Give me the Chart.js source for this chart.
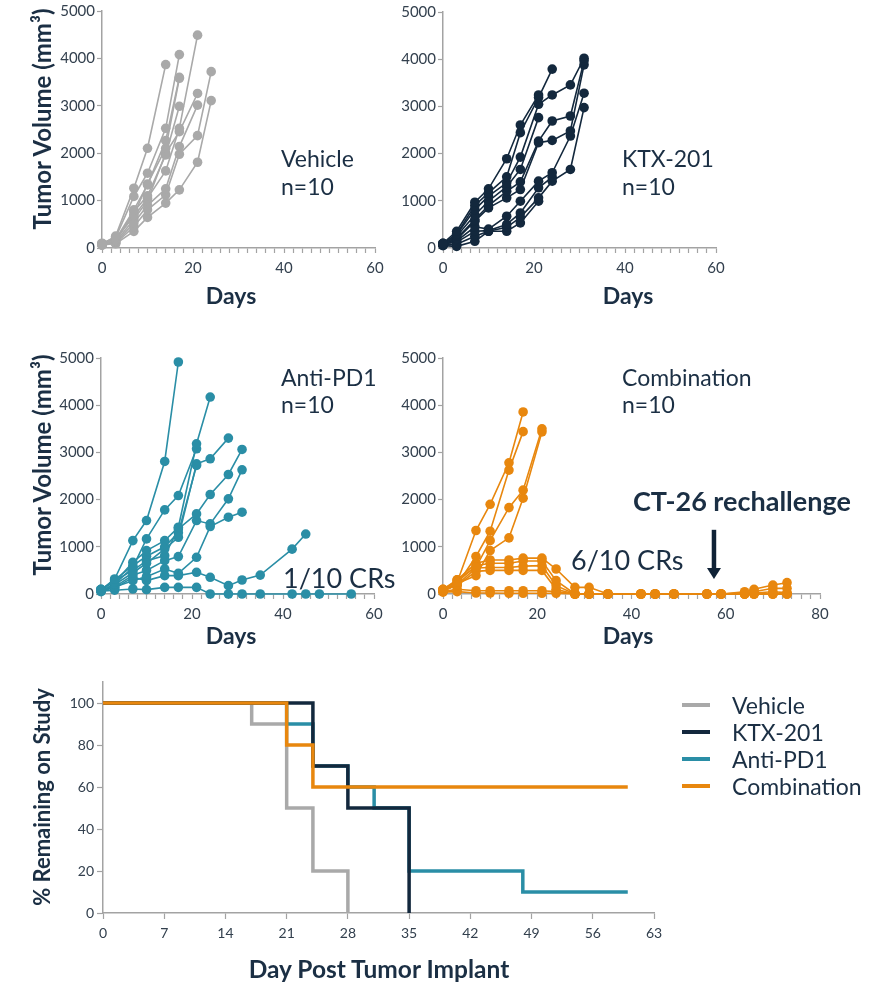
<!DOCTYPE html>
<html>
<head>
<meta charset="utf-8">
<script src="https://cdn.jsdelivr.net/npm/chart.js@4.4.1/dist/chart.umd.min.js"></script>
<style>
  body { margin: 0; background: #fff; width: 876px; height: 982px; position: relative; overflow: hidden;
         font-family: Lato, "Open Sans", sans-serif; color: #1b2f44; }
  canvas { position: absolute; }
  .t { position: absolute; white-space: nowrap; line-height: 1; }
  .ytitle { position: absolute; white-space: nowrap; line-height: 1; font-weight: 700; font-size: 24px;
            transform: translate(-50%, -50%) rotate(-90deg); }
  .xtitle { position: absolute; white-space: nowrap; line-height: 1; font-weight: 700; font-size: 23px;
            transform: translateX(-50%); }
  .lg { position: absolute; left: 682px; width: 28px; height: 4px; }
</style>
</head>
<body>
<canvas id="vehicleChart" width="400" height="290" style="left:0;top:0"></canvas>
<canvas id="ktxChart" width="400" height="290" style="left:340px;top:0"></canvas>
<canvas id="antiChart" width="400" height="300" style="left:0;top:330px"></canvas>
<canvas id="comboChart" width="536" height="300" style="left:340px;top:330px"></canvas>
<canvas id="kmChart" width="690" height="290" style="left:0;top:670px"></canvas>

<div class="ytitle" style="left:42px;top:119px">Tumor Volume (mm³)</div>
<div class="ytitle" style="left:42px;top:465px">Tumor Volume (mm³)</div>
<div class="ytitle" style="left:42px;top:797px;font-size:22px">% Remaining on Study</div>
<div class="xtitle" style="left:231px;top:284px">Days</div>
<div class="xtitle" style="left:628px;top:284px">Days</div>
<div class="xtitle" style="left:231px;top:624px">Days</div>
<div class="xtitle" style="left:628px;top:624px">Days</div>
<div class="xtitle" style="left:379px;top:957px;font-size:24.5px">Day Post Tumor Implant</div>

<div class="t" style="left:281px;top:147px;font-size:23px">Vehicle</div>
<div class="t" style="left:281px;top:175px;font-size:23px">n=10</div>
<div class="t" style="left:622px;top:147px;font-size:23px">KTX-201</div>
<div class="t" style="left:622px;top:175px;font-size:23px">n=10</div>
<div class="t" style="left:281px;top:366px;font-size:23px">Anti-PD1</div>
<div class="t" style="left:281px;top:393px;font-size:23px">n=10</div>
<div class="t" style="left:622px;top:366px;font-size:23px">Combination</div>
<div class="t" style="left:622px;top:393px;font-size:23px">n=10</div>
<div class="t" style="left:283px;top:564px;font-size:27px">1/10 CRs</div>
<div class="t" style="left:571px;top:546px;font-size:27px">6/10 CRs</div>
<div class="t" style="left:633px;top:487px;font-size:27px;font-weight:700">CT-26 rechallenge</div>

<div class="lg" style="top:703px;background:#a9a9a9"></div>
<div class="t" style="left:732px;top:694px;font-size:23px">Vehicle</div>
<div class="lg" style="top:730px;background:#13283d"></div>
<div class="t" style="left:732px;top:721px;font-size:23px">KTX-201</div>
<div class="lg" style="top:757px;background:#2a8ea6"></div>
<div class="t" style="left:732px;top:748px;font-size:23px">Anti-PD1</div>
<div class="lg" style="top:784px;background:#e8870e"></div>
<div class="t" style="left:732px;top:775px;font-size:23px">Combination</div>

<script>
// tumor volume (mm³) per mouse, one array per mouse, aligned with the day list of its group
const vehicleDays = [0, 3, 7, 10, 14, 17, 21, 24];
const vehicleMice = [
  [80, 250, 1262, 2104, 3870],
  [100, 220, 1087, 1578, 2525, 4080],
  [70, 180, 806, 1332, 2265, 3600],
  [90, 160, 700, 1350, 2104, 3580],
  [60, 150, 771, 1100, 1964, 2990],
  [80, 200, 666, 1052, 1627, 2525, 4490],
  [70, 130, 600, 1000, 2000, 2455, 3260],
  [90, 110, 526, 900, 1248, 2139, 3015],
  [60, 100, 450, 806, 1122, 1978, 2370, 3720],
  [80, 90, 351, 645, 947, 1227, 1809, 3110],
];

const ktxDays = [0, 3, 7, 10, 14, 17, 21, 24, 28, 31];
const ktxMice = [
  [100, 354, 970, 1253, 1891, 2606, 3243],
  [80, 300, 900, 1168, 1508, 2443, 3187, 3790],
  [90, 280, 814, 1100, 1381, 1926, 3045, 3243, 3456, 4020],
  [70, 250, 700, 991, 1300, 1664, 2762],
  [60, 200, 600, 900, 1200, 1400, 2266, 2691, 2797, 3965],
  [100, 180, 567, 850, 1062, 1239, 2231, 2280, 2479, 3880],
  [70, 150, 450, 400, 673, 991, 1416, 1594, 2372, 3280],
  [90, 120, 354, 368, 500, 743, 1275, 1500],
  [60, 80, 250, 354, 439, 650, 1062, 1416, 1664, 2975],
  [50, 35, 142, 354, 354, 531, 991],
];

const antiDays = [0, 3, 7, 10, 14, 17, 21, 24, 28, 31, 35, 42, 45, 48, 55];
const antiMice = [
  [80, 318, 1131, 1556, 2808, 4915],
  [100, 250, 672, 919, 1131, 1414, 3182, 4173],
  [70, 212, 566, 1167, 1782, 2086, 3076],
  [60, 200, 450, 651, 955, 1202, 2758, 2864, 3303],
  [90, 280, 500, 700, 813, 1379, 1697, 2108, 2532, 3062],
  [50, 150, 400, 500, 707, 792, 1556, 1485, 2016, 2631],
  [70, 150, 283, 368, 530, 438, 778, 1429, 1627, 1733],
  [100, 120, 354, 283, 389, 389, 460, 354, 177, 297, 400, 950, 1270],
  [60, 80, 106, 92, 141, 141, 141, 0, 0, 0, 0, 0, 0, 0, 0],
  [90, 300, 600, 800, 1000, 1300, 2723],
];

const comboDays = [0, 3, 7, 10, 14, 17, 21, 24, 28, 31, 35, 42, 45, 49, 56, 59, 64, 66, 70, 73];
const comboMice = [
  [80, 250, 1345, 1900, 2780, 3857],
  [60, 200, 795, 1330, 2625, 3440],
  [100, 300, 566, 1130, 1830, 2200, 3500],
  [70, 220, 390, 920, 1190, 2030, 3435],
  [80, 300, 650, 720, 720, 760, 760, 530, 141, 141, 0, 0, 0, 0, 0, 0, 49, 99, 190, 240],
  [100, 250, 600, 650, 650, 700, 700, 283, 0, 0, 0, 0, 0, 0, 0, 0, 20, 49, 120, 120],
  [60, 200, 550, 560, 560, 590, 600, 177, 0, 0, 0, 0, 0, 0, 0, 0, 0, 20, 49, 30],
  [90, 180, 480, 500, 500, 500, 500, 100, 0, 0, 0, 0, 0, 0, 0, 0, 0, 0, 0, 0],
  [50, 100, 70, 70, 70, 70, 70, 50, 0, 0, 0, 0, 0, 0, 0, 0, 0, 0, 0, 0],
  [40, 50, 20, 20, 15, 15, 15, 15, 0, 0, 0, 0, 0, 0, 0, 0, 0, 0, 0, 0],
];
const rechallengeDay = 57.5;

// % remaining on study (Kaplan-Meier steps)
const kmGroups = ['Vehicle', 'KTX-201', 'Anti-PD1', 'Combination'];
const kmVehicleDays = [0, 17, 21, 24, 28];
const kmVehicle = [100, 90, 50, 20, 0];
const kmKtxDays = [0, 24, 28, 35];
const kmKtx = [100, 70, 50, 0];
const kmAntiDays = [0, 21, 24, 28, 31, 35, 48, 60];
const kmAnti = [100, 90, 70, 60, 50, 20, 10, 10];
const kmComboDays = [0, 21, 24, 60];
const kmCombo = [100, 80, 60, 60];

const colors = { vehicle: '#a9a9a9', ktx: '#13283d', anti: '#2a8ea6', combo: '#e8870e' };
const axisColor = '#a3a3a3';
const tickColor = '#33404e';
const font = 'Lato';

const arrowPlugin = {
  id: 'rechallengeArrow',
  afterDatasetsDraw(chart) {
    const { ctx, scales: { x, y } } = chart;
    const px = x.getPixelForValue(rechallengeDay);
    const top = y.getPixelForValue(1360);
    const tip = y.getPixelForValue(320);
    ctx.save();
    ctx.strokeStyle = ctx.fillStyle = '#0f2236';
    ctx.lineWidth = 4.5;
    ctx.beginPath();
    ctx.moveTo(px, top);
    ctx.lineTo(px, tip - 8);
    ctx.stroke();
    ctx.beginPath();
    ctx.moveTo(px - 7, tip - 11);
    ctx.lineTo(px + 7, tip - 11);
    ctx.lineTo(px, tip);
    ctx.closePath();
    ctx.fill();
    ctx.restore();
  },
};

function toPoints(days, vals) {
  return vals.map((v, i) => ({ x: days[i], y: v })).filter(p => p.y !== null);
}

function tumorPanel(id, days, mice, color, xMax, box, plugins) {
  const datasets = mice.map((vals, i) => ({
    label: 'Mouse ' + (i + 1),
    data: toPoints(days, vals),
    borderColor: color,
    backgroundColor: color,
    borderWidth: 1.6,
    pointRadius: 4.8,
    pointBorderWidth: 0,
    clip: false,
  }));

  return new Chart(document.getElementById(id), {
    type: 'line',
    data: { datasets },
    plugins: plugins || [],
    options: {
      responsive: false,
      animation: false,
      devicePixelRatio: 1,
      layout: { padding: { top: box.top, right: box.right, left: 0, bottom: 0 } },
      plugins: { legend: { display: false }, tooltip: { enabled: false } },
      scales: {
        x: {
          type: 'linear', min: 0, max: xMax,
          afterFit: s => { s.height = box.xHeight; },
          border: { color: axisColor, width: 1.5 },
          grid: { drawOnChartArea: false, tickLength: 5, color: axisColor, tickWidth: 1.2 },
          ticks: {
            stepSize: 2, autoSkip: false, maxRotation: 0, padding: 6,
            color: tickColor, font: { family: font, size: 15 },
            callback: v => (v % 20 === 0 ? String(v) : ''),
          },
        },
        y: {
          min: 0, max: 5000,
          afterFit: s => { s.width = box.yWidth; },
          border: { color: axisColor, width: 1.5 },
          grid: { drawOnChartArea: false, tickLength: 5, color: axisColor, tickWidth: 1.2 },
          ticks: { stepSize: 1000, padding: 2, color: tickColor, font: { family: font, size: 15 },
                   callback: v => String(v) },
        },
      },
    },
  });
}

function kmDataset(label, days, vals, color, order) {
  return {
    label,
    data: toPoints(days, vals),
    borderColor: color,
    backgroundColor: color,
    borderWidth: 3.5,
    pointRadius: 0,
    stepped: true,
    order,
    clip: false,
  };
}

function drawAll() {
  tumorPanel('vehicleChart', vehicleDays, vehicleMice, colors.vehicle, 60,
    { top: 11, right: 25, yWidth: 102, xHeight: 42 });
  tumorPanel('ktxChart', ktxDays, ktxMice, colors.ktx, 60,
    { top: 12, right: 24, yWidth: 103, xHeight: 42 });
  tumorPanel('antiChart', antiDays, antiMice, colors.anti, 60,
    { top: 28, right: 26, yWidth: 101, xHeight: 36 });
  tumorPanel('comboChart', comboDays, comboMice, colors.combo, 80,
    { top: 28, right: 56, yWidth: 103, xHeight: 36 }, [arrowPlugin]);

  new Chart(document.getElementById('kmChart'), {
    type: 'line',
    data: {
      datasets: [
        kmDataset(kmGroups[0], kmVehicleDays, kmVehicle, colors.vehicle, 3),
        kmDataset(kmGroups[1], kmKtxDays, kmKtx, colors.ktx, 1),
        kmDataset(kmGroups[2], kmAntiDays, kmAnti, colors.anti, 2),
        kmDataset(kmGroups[3], kmComboDays, kmCombo, colors.combo, 0),
      ],
    },
    options: {
      responsive: false,
      animation: false,
      devicePixelRatio: 1,
      layout: { padding: { top: 12, right: 36, left: 0, bottom: 0 } },
      plugins: { legend: { display: false }, tooltip: { enabled: false } },
      scales: {
        x: {
          type: 'linear', min: 0, max: 63,
          afterFit: s => { s.height = 47; },
          border: { color: axisColor, width: 1.5 },
          grid: { drawOnChartArea: false, tickLength: 6, color: axisColor, tickWidth: 1.2 },
          ticks: { stepSize: 7, autoSkip: false, maxRotation: 0, padding: 6,
                   color: tickColor, font: { family: font, size: 14 } },
        },
        y: {
          min: 0, max: 110,
          afterFit: s => { s.width = 103; },
          afterBuildTicks: s => { s.ticks = s.ticks.filter(t => t.value <= 100); },
          border: { color: axisColor, width: 1.5 },
          grid: { drawOnChartArea: false, tickLength: 6, color: axisColor, tickWidth: 1.2 },
          ticks: { stepSize: 20, padding: 3, color: tickColor, font: { family: font, size: 14 } },
        },
      },
    },
  });
}

document.fonts.load('15px Lato').then(drawAll, drawAll);
</script>
</body>
</html>
